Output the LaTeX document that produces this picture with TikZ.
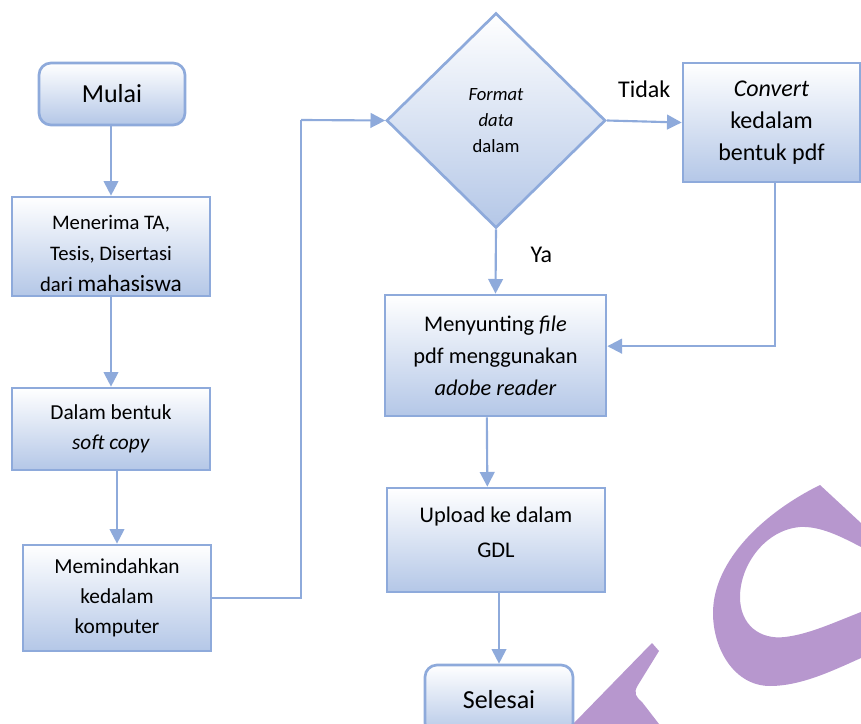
\documentclass[tikz,border=0pt]{standalone}
\usepackage{fontspec}
\setmainfont{Carlito}
\usetikzlibrary{shapes.geometric,arrows.meta}

\definecolor{flowline}{HTML}{8EAADB}
\definecolor{flowfill}{HTML}{B4C7E7}
\definecolor{logopurple}{HTML}{B797CE}

\tikzset{
	stepbox/.style={draw=flowline, line width=2pt, top color=white, bottom color=flowfill, align=center, inner sep=2pt},
	endbox/.style={stepbox, rounded corners=9pt},
	decision/.style={stepbox, diamond, inner sep=0pt},
	flowarrow/.style={draw=flowline, line width=1.6pt, -{Triangle[length=11pt,width=11pt]}},
	flowlink/.style={draw=flowline, line width=1.6pt}
}

\begin{document}
\begin{tikzpicture}[x=0.75pt,y=-0.75pt]
			\useasboundingbox (0,0) rectangle (861,724);

			% Draw the logo in the background
			\fill[logopurple] (820,485) -- (861,523) -- (861,547)
				.. controls (840,536) and (820,526) .. (800,527)
				.. controls (765,530) and (740,565) .. (740,597)
				.. controls (740,625) and (760,640) .. (785,637)
				.. controls (810,634) and (835,622) .. (861,612)
				-- (861,658)
				.. controls (830,672) and (800,686) .. (770,686)
				.. controls (735,686) and (713,650) .. (713,613)
				.. controls (713,560) and (765,512) .. (820,485) -- cycle;
			\fill[logopurple] (573,724) -- (652,643) -- (659,651) -- (638,685)
				.. controls (633,693) and (636,697) .. (642,702) -- (659,724) -- cycle;

			% Left column
			\node[endbox, minimum width=109.5pt, minimum height=46.5pt, font=\fontsize{19.5}{23}\selectfont] (mulai) at (112,94) {Mulai};
			\node[stepbox, minimum width=148.5pt, minimum height=74.25pt, font=\fontsize{15.5}{23}\selectfont] (terima) at (111,246.5)
				{\mbox{}\\[-2pt]Menerima TA,\\Tesis, Disertasi\\dari {\fontsize{17.5}{23}\selectfont mahasiswa}};
			\node[stepbox, minimum width=148.5pt, minimum height=61.5pt, font=\fontsize{16}{22.5}\selectfont] (soft) at (111,429)
				{Dalam bentuk\\\textit{soft copy}};
			\node[stepbox, minimum width=141pt, minimum height=79.5pt, font=\fontsize{16}{22.5}\selectfont] (pindah) at (117,598)
				{Memindahkan\\kedalam\\komputer};

			% Right part
			\node[decision, minimum width=164.25pt, minimum height=161.25pt, font=\fontsize{14}{19.5}\selectfont] (format) at (496,120.5)
				{\textit{Format}\\\textit{data}\\dalam};
			\node[stepbox, minimum width=132.75pt, minimum height=89.25pt, font=\fontsize{18}{24}\selectfont] (convert) at (771.5,122.5)
				{\textit{Convert}\\kedalam\\bentuk pdf};
			\node[stepbox, minimum width=165.75pt, minimum height=90.75pt, font=\fontsize{16.8}{24}\selectfont] (sunting) at (495.5,355.5)
				{Menyunting \textit{file}\\pdf menggunakan\\\textit{adobe reader}};
			\node[stepbox, minimum width=163.5pt, minimum height=78pt, font=\fontsize{16.8}{26}\selectfont] (upload) at (496,540)
				{Upload ke dalam\\GDL\\[-14pt]};
			\node[endbox, minimum width=111pt, minimum height=52.5pt, font=\fontsize{19.5}{23}\selectfont] (selesai) at (499,700) {Selesai};

			% Draw connectors
			\coordinate (bend) at (301,120);
			\draw[flowarrow] (mulai.south -| terima.north) -- (terima.north);
			\draw[flowarrow] (terima) -- (soft);
			\draw[flowarrow] (soft.south -| pindah.north) -- (pindah.north);
			\draw[flowlink] (pindah.east) -| (bend);
			\draw[flowarrow] (bend) -- (format.west);
			\draw[flowarrow] (format.east) -- node[above, yshift=14pt, font=\fontsize{18}{20}\selectfont] (tidak) {Tidak} (convert.west);
			\draw[flowarrow] (format.south) -- node[right, xshift=22pt, yshift=5pt, font=\fontsize{18}{20}\selectfont] (ya) {Ya} (sunting.north);
			\draw[flowarrow] ([xshift=2.5pt]convert.south) |- ([yshift=7pt]sunting.east);
			\draw[flowarrow] ([xshift=-6.5pt]sunting.south) -- ([xshift=-6.5pt]upload.north);
			\draw[flowarrow] (upload.south -| selesai.north) -- (selesai.north);
		\end{tikzpicture}
\end{document}
